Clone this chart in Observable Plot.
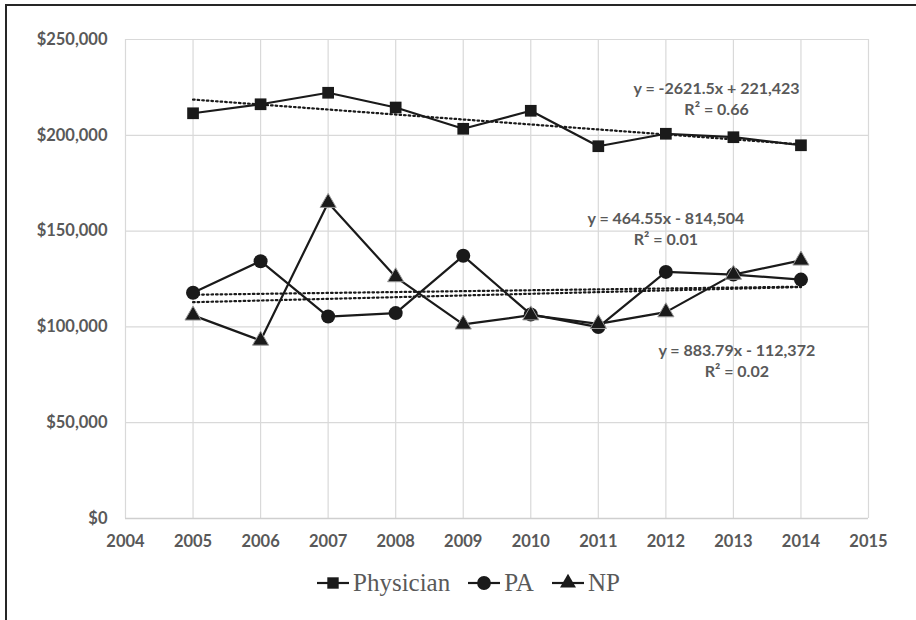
<!DOCTYPE html>
<html>
<head>
<meta charset="utf-8">
<script src="https://cdn.jsdelivr.net/npm/d3@7"></script>
<script src="https://cdn.jsdelivr.net/npm/@observablehq/plot@0.6"></script>
<style>
  html, body { margin: 0; padding: 0; background: #fff; overflow: hidden; }
  #page { position: relative; width: 916px; height: 620px; overflow: hidden; background: #fff; }
  #chart { position: absolute; left: 0; top: 0; }
  #frame { position: absolute; left: 5px; top: 4px; width: 1000px; height: 1000px; pointer-events: none;
           border-left: 2px solid #262626; border-top: 2px solid #262626; }
  #legend { position: absolute; left: 317px; top: 569px; display: flex; align-items: center;
            font-family: "Liberation Serif", "DejaVu Serif", serif; font-size: 25px; color: #595959; }
  .item { display: flex; align-items: center; margin-right: 18px; }
  .item svg { margin-right: 4px; }
</style>
</head>
<body>
<div id="page">
  <div id="chart"></div>
  <div id="legend"></div>
  <div id="frame"></div>
</div>
<script>
const years = [2005, 2006, 2007, 2008, 2009, 2010, 2011, 2012, 2013, 2014];
const physician = [211500, 216200, 222200, 214500, 203400, 212800, 194300, 200800, 199000, 194800];
const pa = [117800, 134300, 105400, 107200, 137100, 106500, 99900, 128700, 127300, 124700];
const np = [106000, 92900, 164800, 126000, 101300, 106100, 101600, 107700, 127300, 134700];
const seriesNames = ["Physician", "PA", "NP"];
const xTicks = [2004, 2005, 2006, 2007, 2008, 2009, 2010, 2011, 2012, 2013, 2014, 2015];
const yTicks = [0, 50000, 100000, 150000, 200000, 250000];
const labelText = ["y = -2621.5x + 221,423\nR² = 0.66", "y = 464.55x - 814,504\nR² = 0.01", "y = 883.79x - 112,372\nR² = 0.02"];
const labelX = [2012.75, 2012, 2013.05];
const labelY = [219500, 151600, 82700];

const valuesBySeries = [physician, pa, np];
const rows = [];
seriesNames.forEach((s, k) => years.forEach((yr, i) => rows.push({year: yr, value: valuesBySeries[k][i], series: s})));
const labels = labelText.map((t, i) => ({x: labelX[i], y: labelY[i], text: t}));

const ink = "#1a1a1a";
const grid = "#d9d9d9";

const plot = Plot.plot({
  width: 916,
  height: 560,
  marginLeft: 125,
  marginRight: 48,
  marginTop: 39,
  marginBottom: 42,
  style: {fontFamily: "Lato, 'Open Sans', sans-serif", fontSize: "16.5px", fontWeight: "bold", color: "#595959", background: "transparent"},
  x: {domain: [2004, 2015]},
  y: {domain: [0, 250000]},
  marks: [
    Plot.gridX(xTicks, {stroke: grid, strokeOpacity: 1, strokeWidth: 1.2}),
    Plot.gridY(yTicks, {stroke: grid, strokeOpacity: 1, strokeWidth: 1.2}),
    Plot.ruleY([0], {stroke: "#cfcfcf", strokeWidth: 1.4}),
    Plot.axisX(xTicks, {tickSize: 0, tickPadding: 17, tickFormat: d => String(d), fill: "#595959"}),
    Plot.axisY(yTicks, {tickSize: 0, tickPadding: 18, tickFormat: d => "$" + d3.format(",")(d), fill: "#595959"}),
    Plot.text(labels, {x: "x", y: "y", text: "text", lineHeight: 1.28, fontSize: 16, fill: "#595959", className: "ann"}),
    Plot.linearRegressionY(rows, {x: "year", y: "value", z: "series", stroke: ink, strokeWidth: 2.2, strokeDasharray: "1.6,3", ci: 0}),
    Plot.line(rows, {x: "year", y: "value", z: "series", stroke: ink, strokeWidth: 2.2}),
    Plot.dot(rows.filter(d => d.series === "Physician"), {x: "year", y: "value", symbol: "square", r: 6.6, fill: ink, stroke: "none"}),
    Plot.dot(rows.filter(d => d.series === "PA"), {x: "year", y: "value", symbol: "circle", r: 7, fill: ink, stroke: "none"}),
    Plot.dot(rows.filter(d => d.series === "NP"), {x: "year", y: "value", symbol: "triangle", r: 6, fill: ink, stroke: "#9a9a9a", strokeWidth: 1})
  ]
});
document.getElementById("chart").appendChild(plot);

// white boxes behind equation labels
plot.querySelectorAll("g.ann text").forEach(t => {
  const b = t.getBBox();
  const r = document.createElementNS("http://www.w3.org/2000/svg", "rect");
  r.setAttribute("x", b.x - 5);
  r.setAttribute("y", b.y - 2);
  r.setAttribute("width", b.width + 10);
  r.setAttribute("height", b.height + 4);
  r.setAttribute("fill", "#fff");
  t.parentNode.insertBefore(r, t);
});

// legend
const legend = document.getElementById("legend");
seriesNames.forEach((name, k) => {
  const item = document.createElement("div");
  item.className = "item";
  const sym = d3.symbol(k === 0 ? d3.symbolSquare : k === 1 ? d3.symbolCircle : d3.symbolTriangle, k === 0 ? 130 : k === 1 ? 150 : 110)();
  item.innerHTML = `<svg width="32" height="20" viewBox="0 0 32 20"><line x1="0" y1="10" x2="32" y2="10" stroke="${ink}" stroke-width="2.2"/><path d="${sym}" transform="translate(16,10)" fill="${ink}"/></svg><span>${name}</span>`;
  legend.appendChild(item);
});
</script>
</body>
</html>
